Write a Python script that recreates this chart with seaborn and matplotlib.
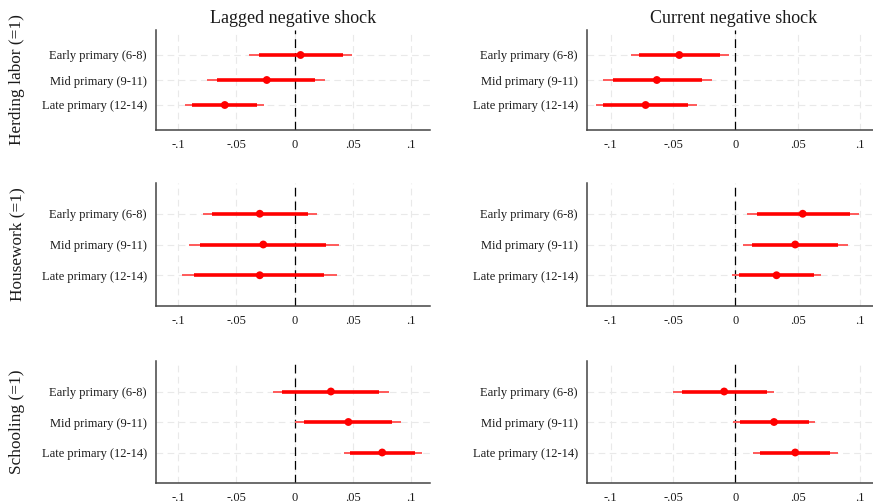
import numpy as np
import pandas as pd
import matplotlib
matplotlib.use("Agg")
import matplotlib.pyplot as plt
import seaborn as sns

# Labels
categories = ["Early primary (6-8)", "Mid primary (9-11)", "Late primary (12-14)"]
outcomes = ["Herding labor (=1)", "Housework (=1)", "Schooling (=1)"]
shocks = ["Lagged negative shock", "Current negative shock"]
xtick_values = [-0.1, -0.05, 0, 0.05, 0.1]
xtick_labels = ["-.1", "-.05", "0", ".05", ".1"]

# Lagged shock: rows = herding, housework, schooling; cols = early, mid, late
lagged_est = [[0.005, -0.024, -0.060], [-0.030, -0.027, -0.030], [0.031, 0.046, 0.075]]
lagged_lo90 = [[-0.031, -0.067, -0.088], [-0.071, -0.081, -0.086], [-0.011, 0.008, 0.047]]
lagged_hi90 = [[0.041, 0.017, -0.032], [0.011, 0.027, 0.025], [0.072, 0.083, 0.103]]
lagged_lo95 = [[-0.039, -0.075, -0.094], [-0.079, -0.091, -0.097], [-0.019, 0.000, 0.042]]
lagged_hi95 = [[0.049, 0.026, -0.026], [0.019, 0.038, 0.036], [0.081, 0.091, 0.109]]

# Current shock
current_est = [[-0.045, -0.063, -0.072], [0.054, 0.048, 0.033], [-0.009, 0.031, 0.048]]
current_lo90 = [[-0.077, -0.098, -0.106], [0.017, 0.013, 0.003], [-0.043, 0.004, 0.020]]
current_hi90 = [[-0.012, -0.027, -0.038], [0.092, 0.082, 0.063], [0.025, 0.059, 0.076]]
current_lo95 = [[-0.084, -0.106, -0.112], [0.009, 0.006, -0.003], [-0.050, -0.002, 0.014]]
current_hi95 = [[-0.005, -0.019, -0.031], [0.099, 0.090, 0.069], [0.031, 0.064, 0.082]]

sns.set_style("white")
plt.rcParams['font.family'] = ['Liberation Serif', 'DejaVu Serif']

W, H = 873, 503
fig = plt.figure(figsize=(W / 100, H / 100), dpi=100)

# axes boxes in pixels: (left, right) and (top, bottom)
col_px = [(156, 430), (587, 880)]
row_px = [(30, 130), (183, 306), (361, 483)]

panel_data = [
    (lagged_est, lagged_lo90, lagged_hi90, lagged_lo95, lagged_hi95),
    (current_est, current_lo90, current_hi90, current_lo95, current_hi95),
]

for c, (est, lo90, hi90, lo95, hi95) in enumerate(panel_data):
    for r in range(3):
        x0, x1 = col_px[c]
        y0, y1 = row_px[r]
        ax = fig.add_axes([x0 / W, (H - y1) / H, (x1 - x0) / W, (y1 - y0) / H])

        df = pd.DataFrame({
            "cat": categories,
            "pos": [1, 2, 3],
            "est": est[r],
            "lo90": lo90[r], "hi90": hi90[r],
            "lo95": lo95[r], "hi95": hi95[r],
        })

        ax.grid(True, color="#e9e9e9", linestyle=(0, (6, 4)), linewidth=0.8, zorder=0)
        ax.axvline(0, color="black", lw=0.9, ls=(0, (7, 4)), zorder=1)
        ax.hlines(df["pos"], df["lo95"], df["hi95"], color="#ff5a5a", lw=1.4, zorder=2)
        ax.hlines(df["pos"], df["lo90"], df["hi90"], color="red", lw=2.6, zorder=3)
        sns.scatterplot(data=df, x="est", y="pos", color="red", s=32,
                        edgecolor="none", ax=ax, zorder=4)

        ax.set_xlim(-0.119, 0.116)
        ax.set_ylim(4, 0)
        ax.set_yticks([1, 2, 3])
        ax.set_yticklabels(categories)
        ax.set_xticks(xtick_values)
        ax.set_xticklabels(xtick_labels)
        ax.set_xlabel("")
        ax.set_ylabel("")
        ax.set_axisbelow(True)

        for s in ["top", "right"]:
            ax.spines[s].set_visible(False)
        for s in ["left", "bottom"]:
            ax.spines[s].set_color("#444444")
            ax.spines[s].set_linewidth(1.1)
        ax.tick_params(axis="both", length=3.5, width=1, color="#444444",
                       labelsize=9, labelcolor="#1a1a1a", direction="out", pad=3)

        if r == 0:
            ax.set_title(shocks[c], fontsize=13, pad=5, color="#1a1a1a")
        if c == 0:
            fig.text(17 / W, 1 - (y0 + y1) / 2 / H, outcomes[r], rotation=90,
                     ha="center", va="center", fontsize=12.4, color="#1a1a1a")

plt.savefig("out.png", dpi=100)
